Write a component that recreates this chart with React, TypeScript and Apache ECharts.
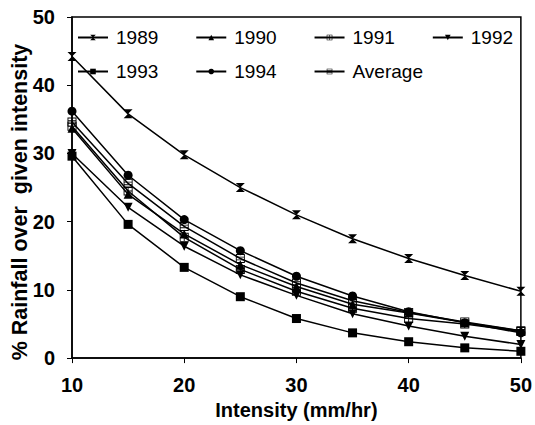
import React, { useEffect, useRef } from "react";
import * as echarts from "echarts";

const intensity = [10, 15, 20, 25, 30, 35, 40, 45, 50];
const y1989 = [44.2, 35.8, 29.8, 25.0, 21.0, 17.5, 14.6, 12.1, 9.8];
const y1990 = [33.7, 24.0, 18.2, 13.7, 10.5, 7.9, 6.6, 5.2, 4.0];
const y1991 = [34.0, 24.5, 17.7, 13.0, 9.8, 7.3, 5.8, 5.0, 3.9];
const y1992 = [30.0, 22.1, 16.4, 12.2, 9.2, 6.5, 4.7, 3.2, 2.0];
const y1993 = [29.6, 19.6, 13.3, 9.0, 5.8, 3.7, 2.4, 1.5, 1.0];
const y1994 = [36.2, 26.8, 20.3, 15.75, 12.0, 9.1, 6.8, 5.2, 3.7];
const yAvg = [34.6, 25.6, 19.3, 14.6, 11.0, 8.4, 6.7, 5.3, 4.0];
const legendRow1 = ["1989", "1990", "1991", "1992"];
const legendRow2 = ["1993", "1994", "Average"];
const xTitle = "Intensity (mm/hr)";
const yTitle = "% Rainfall over  given intensity";

const FONT = "'Liberation Sans', Arial, sans-serif";
const hourglass = "path://M0,0 L10,0 L5,5 L10,10 L0,10 L5,5 Z";
const boxPlus = "path://M0,0 L10,0 L10,10 L0,10 Z M1,1 L1,9 L9,9 L9,1 Z M4.5,1 L5.5,1 L5.5,9 L4.5,9 Z M1,4.5 L9,4.5 L9,5.5 L1,5.5 Z";
const boxCross = "path://M0,0 L10,0 L10,10 L0,10 Z M1,1 L1,9 L9,9 L9,1 Z M1,3 L9,3 L9,4 L1,4 Z M1,6 L9,6 L9,7 L1,7 Z";
const triDown = "path://M0,0 L10,0 L5,9 Z";

export default function App() {
  const ref = useRef<HTMLDivElement>(null);
  useEffect(() => {
    const chart = echarts.init(ref.current!, null, { renderer: "svg" });
    const mk = (name: string, data: number[], symbol: string, size: number) => ({
      name,
      type: "line",
      data: intensity.map((x, i) => [x, data[i]]),
      symbol,
      symbolSize: size,
      showAllSymbol: true,
      lineStyle: { color: "#000", width: 1.5 },
      itemStyle: { color: "#000", borderColor: "#000", borderWidth: 0 },
      z: 3,
    });
    const legendCommon = {
      orient: "horizontal",
      itemWidth: 30,
      itemHeight: 7,
      itemGap: 37,
      textStyle: { fontFamily: FONT, fontSize: 19, color: "#000", padding: [0, 0, 0, 3] },
      padding: 0,
    };
    const axisFont = { fontFamily: FONT, fontSize: 20, fontWeight: "bold", color: "#000" };
    chart.setOption({
      animation: false,
      backgroundColor: "#fff",
      grid: {
        left: 72, right: 10, top: 17, bottom: 62,
        show: true, borderColor: "#000", borderWidth: 1.5, backgroundColor: "transparent",
      },
      legend: [
        { ...legendCommon, left: 77, top: 28, data: legendRow1 },
        { ...legendCommon, left: 77, top: 62, data: legendRow2 },
      ],
      graphic: [
        {
          type: "text",
          x: 20,
          y: 202,
          rotation: Math.PI / 2,
          style: {
            text: yTitle,
            fontFamily: FONT, fontSize: 21.5, fontWeight: "bold", fill: "#000",
            align: "center", verticalAlign: "middle",
          },
        },
      ],
      xAxis: {
        type: "value", min: 10, max: 50, interval: 10,
        name: xTitle, nameLocation: "middle", nameGap: 38,
        nameTextStyle: axisFont,
        axisLine: { show: true, lineStyle: { color: "#000", width: 1.5 } },
        axisTick: { show: true, inside: false, length: 5, lineStyle: { color: "#000" } },
        axisLabel: { ...axisFont, margin: 17 },
        splitLine: { show: false },
      },
      yAxis: {
        type: "value", min: 0, max: 50, interval: 10,
        axisLine: { show: true, lineStyle: { color: "#000", width: 1.5 } },
        axisTick: { show: true, inside: false, length: 5, lineStyle: { color: "#000" } },
        axisLabel: { ...axisFont, margin: 17 },
        splitLine: { show: false },
      },
      series: [
        mk("1989", y1989, hourglass, 9),
        mk("1990", y1990, "triangle", 9),
        mk("1991", y1991, boxPlus, 9),
        mk("1992", y1992, triDown, 9),
        mk("1993", y1993, "rect", 9),
        mk("1994", y1994, "circle", 9),
        mk("Average", yAvg, boxCross, 9),
      ],
    });
    return () => chart.dispose();
  }, []);
  return <div ref={ref} style={{ position: "fixed", left: 0, top: 0, width: 535, height: 425, background: "#fff" }} />;
}
